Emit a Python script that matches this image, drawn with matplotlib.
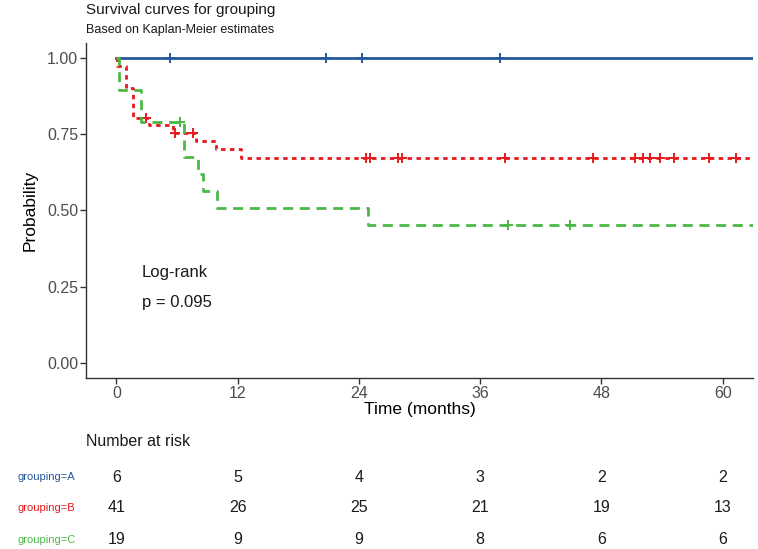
import numpy as np
import matplotlib.pyplot as plt
from matplotlib.transforms import blended_transform_factory

plt.rcParams['font.family'] = ['Liberation Sans', 'DejaVu Sans']

# Kaplan-Meier steps (time in months, survival after the step)
a_times = []
a_surv = []
a_cens = [5.3, 20.7, 24.3, 38.0]

b_times = [0.1, 0.95, 1.7, 3.2, 5.6, 7.9, 9.9, 12.3]
b_surv = [0.976, 0.902, 0.805, 0.780, 0.755, 0.728, 0.701, 0.674]
b_cens = [2.9, 5.8, 7.6, 24.7, 25.1, 27.9, 28.3, 38.5, 47.2,
          51.3, 52.1, 52.8, 53.8, 55.2, 58.6, 61.3]

c_times = [0.3, 2.4, 6.7, 8.1, 8.6, 9.95, 24.9]
c_surv = [0.895, 0.789, 0.677, 0.620, 0.564, 0.508, 0.451]
c_cens = [6.3, 38.8, 44.9]

group_names = ['grouping=A', 'grouping=B', 'grouping=C']
colors = ['#24589a', '#e8191c', '#4cb848']
risk_times = [0, 12, 24, 36, 48, 60]
risk_a = [6, 5, 4, 3, 2, 2]
risk_b = [41, 26, 25, 21, 19, 13]
risk_c = [19, 9, 9, 8, 6, 6]

x_end = 63

fig = plt.figure(figsize=(7.58, 5.49), dpi=100)
W, H = 758, 549
ax = fig.add_axes([86 / W, 1 - 378 / H, (753 - 86) / W, (378 - 43) / H])

styles = [dict(ls='-'), dict(dashes=(1.6, 1.6)), dict(dashes=(3.6, 2.4))]
groups = [(a_times, a_surv, a_cens), (b_times, b_surv, b_cens), (c_times, c_surv, c_cens)]

for (t, s, cens), col, st in zip(groups, colors, styles):
    xs = np.array([0] + t + [x_end])
    ys = np.array([1.0] + s + [s[-1] if s else 1.0])
    ax.step(xs, ys, where='post', color=col, lw=2.0, **st)
    idx = np.searchsorted(xs, cens, side='right') - 1
    ax.plot(cens, ys[idx], ls='none', marker='+', ms=7.5, mew=1.4, color=col)

ax.text(2.5, 0.295, 'Log-rank', fontsize=12, va='center', color='#1a1a1a')
ax.text(2.5, 0.197, 'p = 0.095', fontsize=12, va='center', color='#1a1a1a')

ax.set_xlim(-3, x_end)
ax.set_ylim(-0.05, 1.05)
ax.set_xticks(risk_times)
ax.set_yticks([0, 0.25, 0.5, 0.75, 1.0])
ax.set_yticklabels(['0.00', '0.25', '0.50', '0.75', '1.00'])
ax.tick_params(labelsize=11.5, colors='#333333', labelcolor='#4d4d4d', length=4, width=1, pad=1.5)
for side in ['top', 'right']:
    ax.spines[side].set_visible(False)
for side in ['left', 'bottom']:
    ax.spines[side].set_color('#333333')
    ax.spines[side].set_linewidth(1)
ax.set_xlabel('Time (months)', fontsize=12.5, labelpad=1)
ax.set_ylabel('Probability', fontsize=12.5, labelpad=7)

fig.text(86 / W, 1 - 10 / H, 'Survival curves for grouping', fontsize=11, va='center', color='#1a1a1a')
fig.text(86 / W, 1 - 30 / H, 'Based on Kaplan-Meier estimates', fontsize=9, va='center', color='#1a1a1a')

# risk table
fig.text(86 / W, 1 - 442 / H, 'Number at risk', fontsize=11.5, va='center', color='#1a1a1a')
tr = blended_transform_factory(ax.transData, fig.transFigure)
row_y = [477, 508, 540]
for name, risk, col, y in zip(group_names, [risk_a, risk_b, risk_c], colors, row_y):
    fig.text(18 / W, 1 - y / H, name, fontsize=8, color=col, va='center')
    for t, n in zip(risk_times, risk):
        fig.text(t, 1 - y / H, str(n), fontsize=11.5, ha='center', va='center',
                 color='#1a1a1a', transform=tr)

fig.savefig('out.png', dpi=100)
